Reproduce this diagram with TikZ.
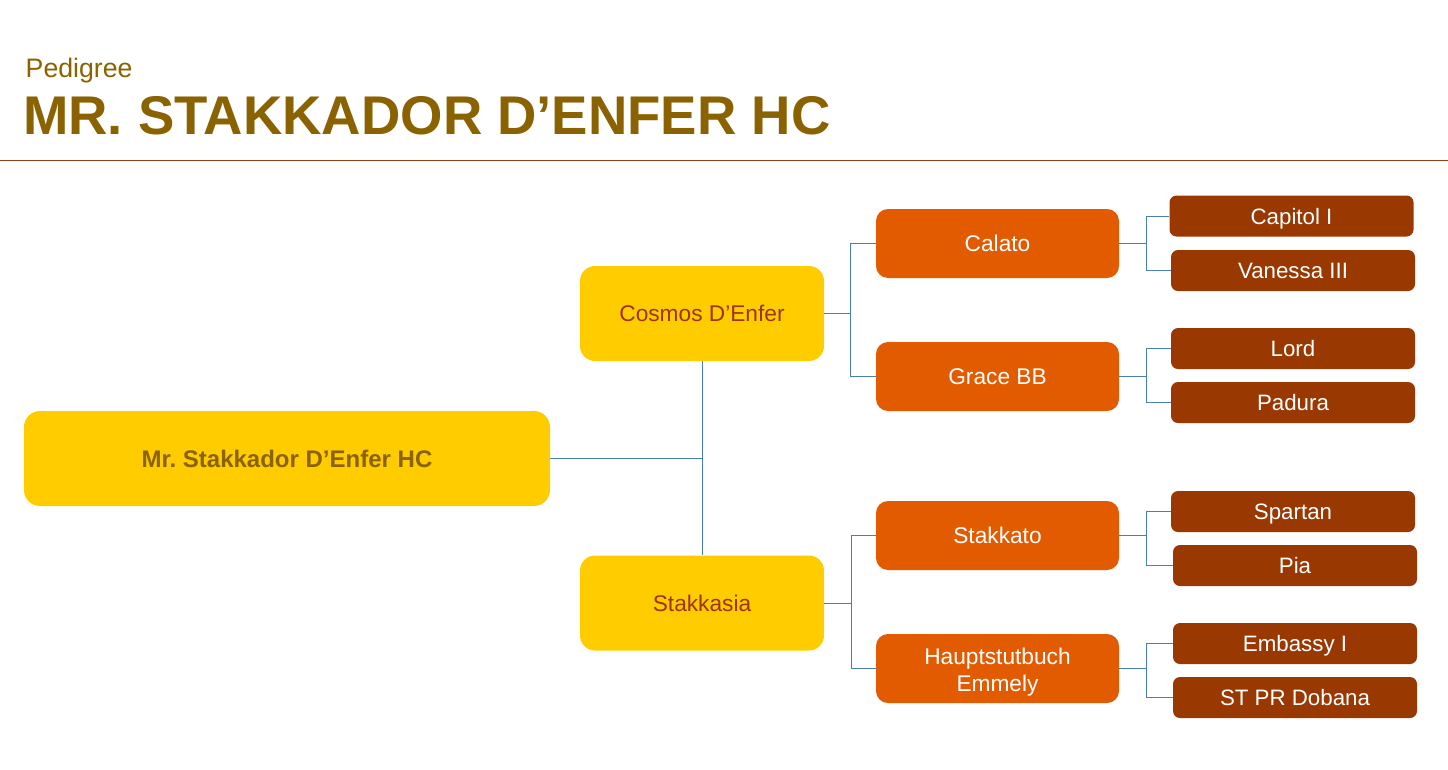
\documentclass[tikz,border=0pt]{standalone}
\usepackage{fontspec}
\setmainfont{Liberation Sans}
\definecolor{titlecol}{RGB}{138,98,0}
\definecolor{rulecol}{RGB}{150,62,20}
\definecolor{yel}{RGB}{255,204,0}
\definecolor{orng}{RGB}{226,91,0}
\definecolor{brwn}{RGB}{153,56,0}
\definecolor{redtxt}{RGB}{158,52,5}
\definecolor{linkcol}{RGB}{74,126,187}
\begin{document}
\frenchspacing
\begin{tikzpicture}[x=1pt,y=-1pt,
  gen0/.style={fill=yel, rounded corners=16pt, minimum width=526pt, minimum height=95pt, inner sep=0pt,
    text height=17.2pt, text depth=0pt,
    text=titlecol, font=\fontsize{24}{28}\selectfont\bfseries},
  gen1/.style={fill=yel, rounded corners=15pt, minimum width=244pt, minimum height=95pt, inner sep=0pt,
    text height=16.3pt, text depth=0pt,
    text=redtxt, font=\fontsize{22.7}{27}\selectfont},
  gen2/.style={fill=orng, rounded corners=12pt, minimum width=243pt, minimum height=69pt, inner sep=0pt,
    text height=16.3pt, text depth=0pt,
    text=white, align=center, font=\fontsize{22.7}{27}\selectfont},
  gen3/.style={fill=brwn, rounded corners=7pt, minimum width=244pt, minimum height=41pt, inner sep=0pt,
    text height=16pt, text depth=0pt,
    text=white, font=\fontsize{22.3}{26}\selectfont},
  link/.style={draw=linkcol, line width=1pt}]
\useasboundingbox (0,0) rectangle (1448,769);
% title
\node[anchor=base west, inner sep=0pt, text=titlecol, font=\fontsize{26.7}{30}\selectfont] (ped) at (25.5,77) {Pedigree};
\node[anchor=base west, inner sep=0pt, text=titlecol, font=\fontsize{54.5}{60}\selectfont\bfseries] (ttl) at (23,134.5) {MR. STAKKADOR D’ENFER HC};
\coordinate (rl) at (0,160);
\coordinate (rr) at (1448,160);
\draw[rulecol, line width=1pt] (rl) -- (rr);
% nodes
\node[gen0] (main) at (287,458.5) {Mr. Stakkador D’Enfer HC};
\node[gen1] (cosmos) at (702,313.5) {Cosmos D’Enfer};
\node[gen1] (stakkasia) at (702,603) {Stakkasia};
\node[gen2] (calato) at (997.5,243.5) {Calato};
\node[gen2] (grace) at (997.5,376.5) {Grace BB};
\node[gen2] (stakkato) at (997.5,535.5) {Stakkato};
\node[gen2, text height=, text depth=] (haupt) at (997.5,668.5) {\raisebox{-4pt}[\height][\depth]{\begin{tabular}{@{}c@{}}Hauptstutbuch\\Emmely\end{tabular}}};
\node[gen3] (capitol) at (1291.5,216) {Capitol I};
\node[gen3] (vanessa) at (1293,270.5) {Vanessa III};
\node[gen3] (lord) at (1293,348.5) {Lord};
\node[gen3] (padura) at (1293,402.5) {Padura};
\node[gen3] (spartan) at (1293,511.5) {Spartan};
\node[gen3] (pia) at (1295,565.5) {Pia};
\node[gen3] (embassy) at (1295,643.5) {Embassy I};
\node[gen3] (dobana) at (1295,697.5) {ST PR Dobana};
% connectors
\draw[link] (main.east) -- (main.east -| cosmos.south);
\draw[link] (cosmos.south) -- (stakkasia.north);
\draw[link] (cosmos.east) -- ++(26,0) coordinate (j1);
\draw[link] (j1) |- (calato.west);
\draw[link] (j1) |- (grace.west);
\draw[link] (stakkasia.east) -- ++(27,0) coordinate (j2);
\draw[link] (j2) |- (stakkato.west);
\draw[link] (j2) |- (haupt.west);
\draw[link] (calato.east) -- ++(27,0) coordinate (j3);
\draw[link] (j3) |- (capitol.west);
\draw[link] (j3) |- (vanessa.west);
\draw[link] (grace.east) -- ++(27,0) coordinate (j4);
\draw[link] (j4) |- (lord.west);
\draw[link] (j4) |- (padura.west);
\draw[link] (stakkato.east) -- ++(27,0) coordinate (j5);
\draw[link] (j5) |- (spartan.west);
\draw[link] (j5) |- (pia.west);
\draw[link] (haupt.east) -- ++(27,0) coordinate (j6);
\draw[link] (j6) |- (embassy.west);
\draw[link] (j6) |- (dobana.west);
\end{tikzpicture}
\end{document}
